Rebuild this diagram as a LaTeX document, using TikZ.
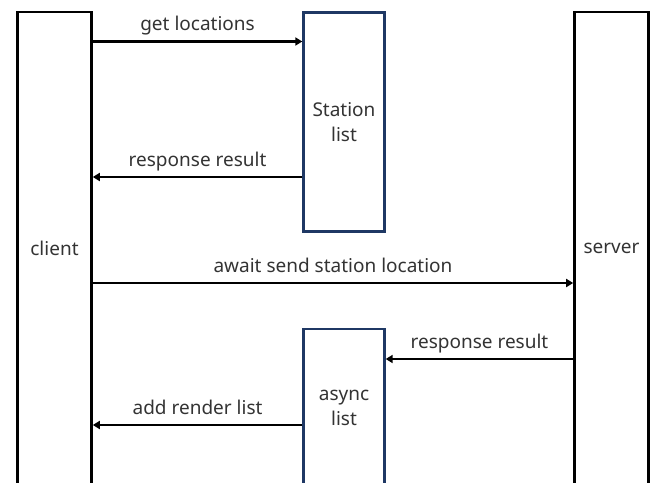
\documentclass[tikz,border=0pt]{standalone}
\usepackage{fontspec}
\setmainfont{Noto Sans}
\usetikzlibrary{arrows.meta}
\definecolor{listblue}{RGB}{31,56,100}
\tikzset{
  lane/.style={draw,line width=2.6pt,minimum width=74pt,minimum height=472pt,text=black!80},
  listbox/.style={draw=listblue,line width=2.4pt,minimum width=81pt,align=center,text=black!80},
  msg/.style={-{Triangle[length=7pt,width=8pt]},line width=2.4pt},
  lbl/.style={midway,anchor=base,yshift=11pt,text=black!80}
}
\begin{document}
\begin{tikzpicture}[x=1pt,y=-1pt,font=\fontsize{19}{25}\selectfont]
  \useasboundingbox (0,0) rectangle (656,482);
  \clip (0,0) rectangle (656,482);
  \node [lane] (client) at (54.5,248) {client};
  \node [lane] (server) at (611.5,248) {server};
  \node [listbox,minimum height=219pt] (station) at (344,122) {Station\\list};
  \node [listbox,minimum height=158pt] (async) at (344,408) {async\\list};
  % message heights
  \coordinate (m1) at (0,41.5);
  \coordinate (m2) at (0,177);
  \coordinate (m3) at (0,283);
  \coordinate (m4) at (0,359);
  \coordinate (m5) at (0,425);
  \draw [msg] (client.east |- m1) -- node [lbl] {get locations} (station.west |- m1);
  \draw [msg] (station.west |- m2) -- node [lbl] {response result} (client.east |- m2);
  \draw [msg] (client.east |- m3) -- node [lbl] {await send station location} (server.west |- m3);
  \draw [msg] (server.west |- m4) -- node [lbl] {response result} (async.east |- m4);
  \draw [msg] (async.west |- m5) -- node [lbl] {add render list} (client.east |- m5);
\end{tikzpicture}
\end{document}
